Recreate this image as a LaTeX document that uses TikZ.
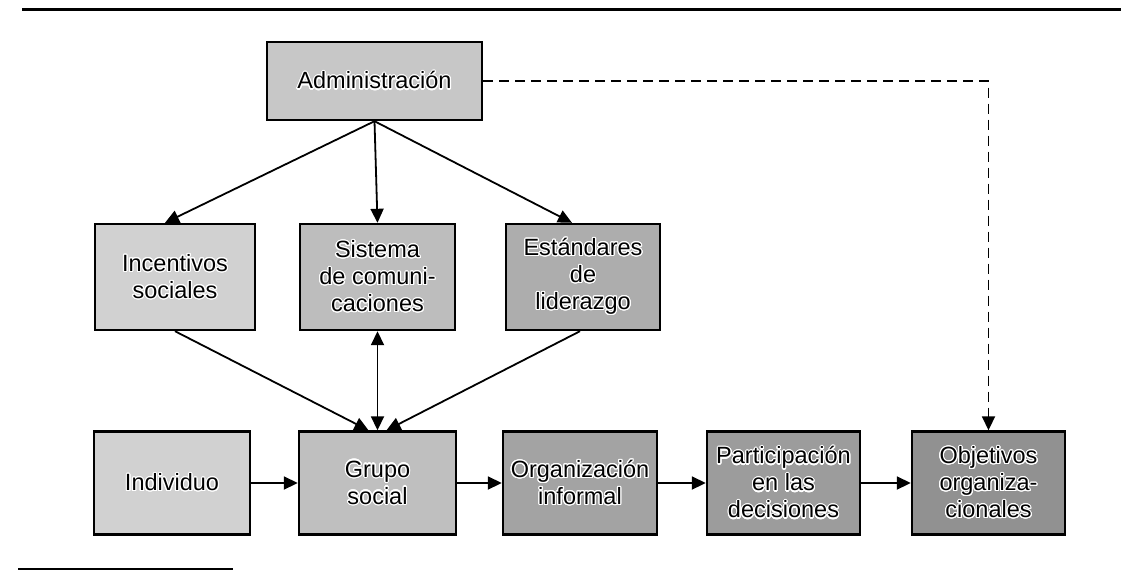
\documentclass[tikz,border=0pt]{standalone}
\usepackage{fontspec}
\setmainfont{Liberation Sans}
\usepackage{contour}
\contourlength{1.1pt}
\contournumber{24}
\usetikzlibrary{arrows.meta}
\newcommand{\halo}[1]{\contour{white}{#1}}
\begin{document}
\begin{tikzpicture}[x=1pt,y=1pt,
  box/.style={draw=black, line width=2.4pt, align=center, inner sep=2pt,
    font=\fontsize{23.5}{27}\selectfont, text=black},
  tip/.style={},
  conn/.style={line width=1.8pt, -{Triangle[length=14pt,width=13pt]}},
  both/.style={line width=1.8pt, {Triangle[length=14pt,width=13pt]}-{Triangle[length=14pt,width=13pt]}},
  dashconn/.style={line width=1.8pt, dash pattern=on 10pt off 6pt, -{Triangle[length=14pt,width=13pt]}},
  rulethick/.style={line width=3pt}
]
\useasboundingbox (0,0) rectangle (1121,-571);
\fill[white] (0,0) rectangle (1121,-571);

% rules
\coordinate (t1) at (22,-9);
\coordinate (t2) at (1121,-9);
\draw[rulethick] (t1) -- (t2);
\coordinate (b1) at (18,-569);
\coordinate (b2) at (233,-569);
\draw[line width=2.2pt] (b1) -- (b2);

% nodes
\node[box, fill=black!22, minimum width=215pt, minimum height=78pt] (adm) at (374.5,-81) {\halo{Administración}};
\node[box, fill=black!18, minimum width=160pt, minimum height=106pt] (inc) at (175,-277) {\halo{Incentivos}\\\halo{sociales}};
\node[box, fill=black!26, minimum width=155pt, minimum height=106pt] (sis) at (377.5,-277) {\halo{Sistema}\\\halo{de comuni-}\\\halo{caciones}};
\node[box, fill=black!32, minimum width=154pt, minimum height=106pt] (est) at (583,-277) {\halo{Estándares}\\\halo{de}\\\halo{liderazgo}};
\node[box, fill=black!18, minimum width=156pt, minimum height=103pt] (ind) at (172,-483) {\halo{Individuo}};
\node[box, fill=black!25, minimum width=157pt, minimum height=103pt] (gru) at (377.5,-483) {\halo{Grupo}\\\halo{social}};
\node[box, fill=black!36, minimum width=154pt, minimum height=103pt] (org) at (580,-483) {\halo{Organización}\\\halo{informal}};
\node[box, fill=black!39, minimum width=153pt, minimum height=103pt] (par) at (783.5,-483) {\halo{Participación}\\\halo{en las}\\\halo{decisiones}};
\node[box, fill=black!43, minimum width=153pt, minimum height=103pt] (obj) at (988.5,-483) {\halo{Objetivos}\\\halo{organiza-}\\\halo{cionales}};

% connectors from Administración
\draw[conn] (adm.south) -- ([xshift=-10pt]inc.north);
\draw[conn] (adm.south) -- (sis.north);
\draw[conn] (adm.south) -- ([xshift=-11pt]est.north);

% into Grupo social
\draw[conn] (inc.south) -- ([xshift=-9pt]gru.north);
\draw[conn] ([xshift=-3pt]est.south) -- ([xshift=9pt]gru.north);
\draw[both] (sis.south) -- (gru.north);

% bottom row
\draw[conn] (ind.east) -- (gru.west);
\draw[conn] (gru.east) -- (org.west);
\draw[conn] (org.east) -- (par.west);
\draw[conn] (par.east) -- (obj.west);

% dashed
\coordinate (corner) at (obj.north |- adm.east);
\draw[dashconn] (adm.east) -- (corner) -- (obj.north);
\end{tikzpicture}
\end{document}
